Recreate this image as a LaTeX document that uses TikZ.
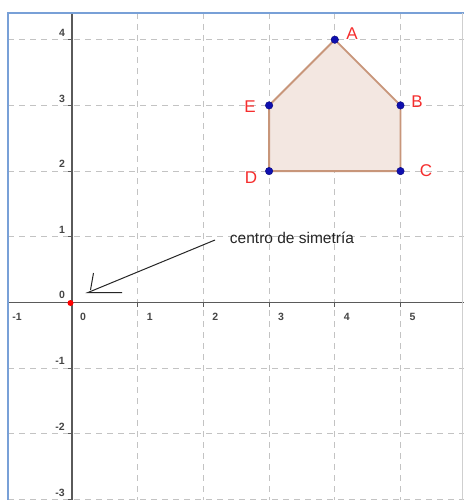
\documentclass[tikz,border=0pt]{standalone}
\usepackage{fontspec}
\setmainfont{Liberation Sans}
\definecolor{gridc}{RGB}{195,195,195}
\definecolor{axisc}{RGB}{90,90,90}
\definecolor{framec}{RGB}{120,160,215}
\definecolor{polyfill}{RGB}{243,231,225}
\definecolor{polyline}{RGB}{200,150,122}
\definecolor{ptblue}{RGB}{15,15,175}
\definecolor{lblred}{RGB}{245,45,45}
\definecolor{tickc}{RGB}{70,70,70}
\begin{document}
\begin{tikzpicture}[x=1pt,y=-1pt,
  gridline/.style={draw=gridc,line width=0.9pt,dash pattern=on 6pt off 5pt},
  axisline/.style={draw=axisc,line width=1.2pt},
  tickmark/.style={draw=axisc,line width=0.9pt},
  ticklbl/.style={font=\fontsize{10.5}{12}\selectfont\bfseries,text=tickc,inner sep=0pt},
  ptlbl/.style={font=\fontsize{17}{19}\selectfont,text=lblred,inner sep=0pt},
  vertex/.style={circle,fill=ptblue,draw=ptblue!70!black,line width=0.4pt,minimum size=7.5pt,inner sep=0pt},
  note/.style={font=\fontsize{15.5}{17}\selectfont,text=black!85,inner sep=0pt},
  pen/.style={draw=black!85,line width=1pt}]
\useasboundingbox (0,0) rectangle (464,500);
\fill[white] (0,0) rectangle (464,500);
% grid
\foreach \k in {1,...,5} \draw[gridline] ({72+65.7*\k},13) -- ({72+65.7*\k},500);
\foreach \k in {-3,-2,-1,1,2,3,4} \draw[gridline] (8,{302.5-65.7*\k}) -- (464,{302.5-65.7*\k});
% axes
\draw[axisline] (8,302.5) -- (464,302.5);
\draw[axisline] (72,13) -- (72,500);
% ticks
\foreach \k in {1,...,5} \draw[tickmark] ({72+65.7*\k},302.5) -- ({72+65.7*\k},306.5);
\foreach \k in {-3,-2,-1,1,2,3,4} \draw[tickmark] (72,{302.5-65.7*\k}) -- (68,{302.5-65.7*\k});
% tick labels
\node[ticklbl] (xm1) at (17,317) {-1};
\node[ticklbl] (x0) at (83,317) {0};
\foreach \k in {1,...,5} \node[ticklbl] (x\k) at ({72+65.7*\k+12},317) {\k};
\node[ticklbl] (o0) at (62,295) {0};
\foreach \k in {1,...,4} \node[ticklbl] (y\k) at (62,{302.5-65.7*\k-7}) {\k};
\foreach \k/\l in {-1/-1,-2/-2,-3/-3} \node[ticklbl] (ym\l) at (60,{302.5-65.7*\k-7}) {\l};
% frame
\draw[framec,line width=1.6pt] (8,500) -- (8,13) -- (464,13);
\draw[gridc!80,line width=0.8pt] (462.5,13) -- (462.5,500);
% polygon
\coordinate (pA) at (334.8,39.7);
\coordinate (pB) at (400.5,105.4);
\coordinate (pC) at (400.5,171.1);
\coordinate (pD) at (269.1,171.1);
\coordinate (pE) at (269.1,105.4);
\filldraw[fill=polyfill,draw=polyline,line width=1.8pt,line join=round] (pA) -- (pB) -- (pC) -- (pD) -- (pE) -- cycle;
\foreach \p in {A,B,C,D,E} \node[vertex] (v\p) at (p\p) {};
\node[ptlbl] (lA) at (352,34) {A};
\node[ptlbl] (lB) at (417,102) {B};
\node[ptlbl] (lC) at (426,171) {C};
\node[ptlbl] (lD) at (251,178) {D};
\node[ptlbl] (lE) at (250,107) {E};
% origin point
\node[circle,fill=red,inner sep=0pt,minimum size=6pt] (orig) at (70.5,303) {};
% note and arrow
\node[note] (cs) at (292,238) {centro de simetría};
\coordinate (tail) at (215,240);
\coordinate (tip) at (88,292.5);
\coordinate (hA) at (122,292.5);
\coordinate (hB) at (93.5,273);
\coordinate (hC) at (90.5,290);
\draw[pen] (tail) -- (tip) -- (hA);
\draw[pen] (hB) -- (hC);
\end{tikzpicture}
\end{document}
